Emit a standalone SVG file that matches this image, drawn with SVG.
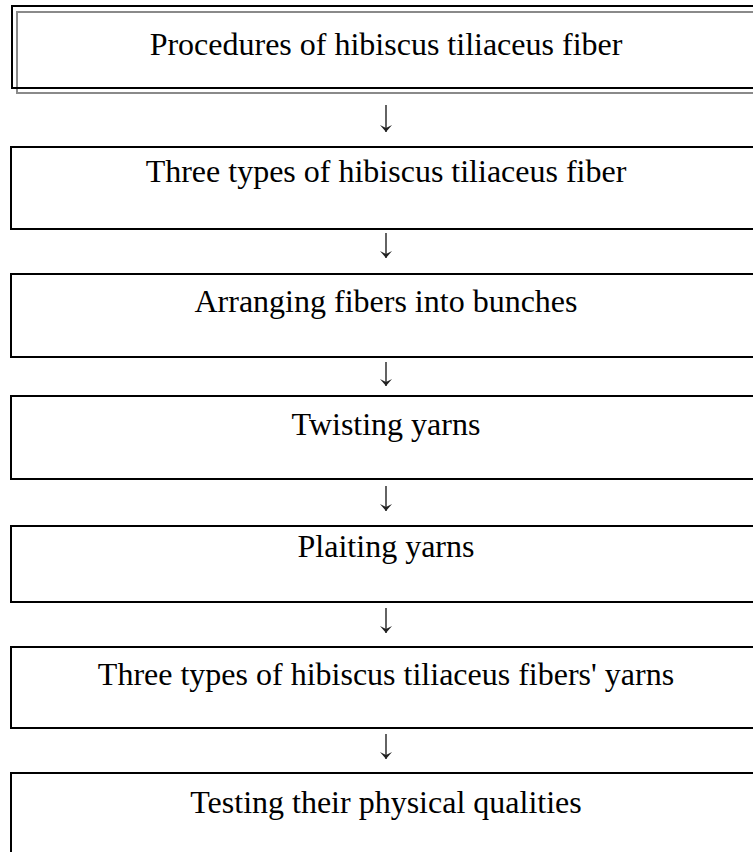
<svg xmlns="http://www.w3.org/2000/svg" width="753" height="852" viewBox="0 0 753 852">
<style>
.box{fill:none;stroke:#000;stroke-width:2}
.shadow{fill:none;stroke:#8a8a8a;stroke-width:2}
.lbl{font-family:"Liberation Serif","Times New Roman",serif;font-size:32px;fill:#000;text-anchor:middle}
.arr{stroke:#222;stroke-width:1.4;fill:none}
</style>
<defs>
<marker id="ah" markerUnits="userSpaceOnUse" markerWidth="14" markerHeight="10" refX="6" refY="7" orient="0" overflow="visible">
<path d="M0,0 L6,7 L12,0 L6,3 Z" fill="#222"/>
</marker>
</defs>
<rect width="753" height="852" fill="#fff"/>
<g id="n1">
<rect class="shadow" x="17" y="12" width="760" height="81"/>
<rect class="box" x="12" y="6" width="760" height="82"/>
<text class="lbl" x="386" y="55">Procedures of hibiscus tiliaceus fiber</text>
</g>
<g id="n2">
<rect class="box" x="11" y="147" width="760" height="82"/>
<text class="lbl" x="386" y="182">Three types of hibiscus tiliaceus fiber</text>
</g>
<g id="n3">
<rect class="box" x="11" y="274" width="760" height="83"/>
<text class="lbl" x="386" y="312">Arranging fibers into bunches</text>
</g>
<g id="n4">
<rect class="box" x="11" y="396" width="760" height="83"/>
<text class="lbl" x="386" y="435">Twisting yarns</text>
</g>
<g id="n5">
<rect class="box" x="11" y="526" width="760" height="76"/>
<text class="lbl" x="386" y="557">Plaiting yarns</text>
</g>
<g id="n6">
<rect class="box" x="11" y="647" width="760" height="81"/>
<text class="lbl" x="386" y="685">Three types of hibiscus tiliaceus fibers' yarns</text>
</g>
<g id="n7">
<rect class="box" x="11" y="773" width="760" height="100"/>
<text class="lbl" x="386" y="813">Testing their physical qualities</text>
</g>
<g id="connectors">
<path class="arr" d="M386,105 V132" marker-end="url(#ah)"/>
<path class="arr" d="M386,233 V258" marker-end="url(#ah)"/>
<path class="arr" d="M386,362 V386" marker-end="url(#ah)"/>
<path class="arr" d="M386,486 V511" marker-end="url(#ah)"/>
<path class="arr" d="M386,608 V633" marker-end="url(#ah)"/>
<path class="arr" d="M386,734 V759" marker-end="url(#ah)"/>
</g>
</svg>
